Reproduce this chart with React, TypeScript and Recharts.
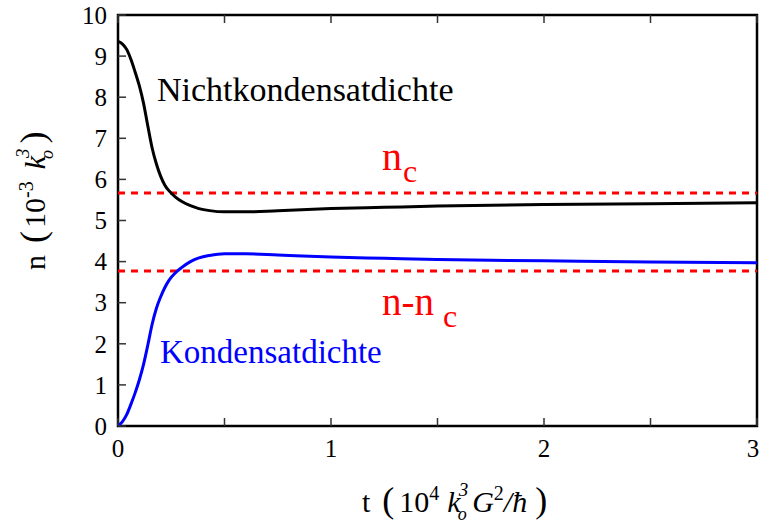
import { Customized, Line, LineChart, ReferenceArea, ReferenceLine, XAxis, YAxis } from "recharts"

// time in units of 10^4 k0^3 G^2 / hbar
const tValues = [0, 0.02, 0.04, 0.06, 0.08, 0.1, 0.12, 0.14, 0.16, 0.18, 0.2, 0.22, 0.24, 0.27, 0.3, 0.34, 0.38, 0.43, 0.5, 0.6, 0.75, 1.0, 1.25, 1.5, 2.0, 2.5, 3.0]

// density of the non-condensed part (10^-3 k0^3)
const nonCondensate = [9.36, 9.3, 9.17, 8.93, 8.62, 8.28, 7.85, 7.3, 6.77, 6.38, 6.08, 5.86, 5.72, 5.57, 5.46, 5.36, 5.29, 5.24, 5.21, 5.21, 5.24, 5.29, 5.32, 5.35, 5.39, 5.41, 5.43]

// condensate density (10^-3 k0^3)
const condensate = [0, 0.1, 0.27, 0.52, 0.8, 1.12, 1.5, 1.97, 2.47, 2.86, 3.14, 3.37, 3.55, 3.73, 3.86, 4.0, 4.09, 4.15, 4.19, 4.19, 4.16, 4.11, 4.08, 4.05, 4.02, 3.99, 3.97]

// equilibrium values
const nC = 5.67
const nMinusNc = 3.77

const xTicks = [0, 0.5, 1, 1.5, 2, 2.5, 3]
const yTicks = [0, 1, 2, 3, 4, 5, 6, 7, 8, 9, 10]

const data = tValues.map((t, i) => ({ t, non: nonCondensate[i], cond: condensate[i] }))

const FONT = "Liberation Serif, DejaVu Serif, Times New Roman, Times, serif"
const TICK_LEN = 8
const MARGIN = 10

// ticks point into the plot; labels only on whole numbers
const BottomTick = (props: any) => {
  const { x, y, payload } = props
  const axisY = y - MARGIN
  const v = payload.value
  return (
    <g>
      <line x1={x} x2={x} y1={axisY} y2={axisY - TICK_LEN} stroke="#333" strokeWidth={1.5} />
      {Number.isInteger(v) && (
        <text x={Math.min(x, 753)} y={axisY + 31} textAnchor="middle" fontSize={25} fontFamily={FONT} fill="#000">
          {v}
        </text>
      )}
    </g>
  )
}

const TopTick = (props: any) => {
  const { x, y } = props
  const axisY = y + MARGIN
  return <line x1={x} x2={x} y1={axisY} y2={axisY + TICK_LEN} stroke="#333" strokeWidth={1.5} />
}

const LeftTick = (props: any) => {
  const { x, y, payload } = props
  const axisX = x + MARGIN
  return (
    <g>
      <line x1={axisX} x2={axisX + TICK_LEN} y1={y} y2={y} stroke="#333" strokeWidth={1.5} />
      <text x={axisX - 11} y={y} dy="0.35em" textAnchor="end" fontSize={25} fontFamily={FONT} fill="#000">
        {payload.value}
      </text>
    </g>
  )
}

const RightTick = (props: any) => {
  const { x, y } = props
  const axisX = x - MARGIN
  return <line x1={axisX} x2={axisX - TICK_LEN} y1={y} y2={y} stroke="#555" strokeWidth={1.5} />
}

const Annotations = () => (
  <g style={{ fontFamily: FONT }}>
    <text x={157} y={101} fontSize={34} fill="#000">Nichtkondensatdichte</text>
    <text x={160} y={363} fontSize={33} fill="#0000ff">Kondensatdichte</text>

    <text x={382} y={170} fontSize={40} fill="#ff0000">n</text>
    <text x={403} y={182} fontSize={32} fill="#ff0000">c</text>
    <text x={382} y={315} fontSize={39} fill="#ff0000">n-n</text>
    <text x={443} y={327} fontSize={32} fill="#ff0000">c</text>

    {/* x axis title */}
    <text x={362} y={512} fontSize={30} fill="#000">
      <tspan>t</tspan>
      <tspan dx={12} fontSize={36}>(</tspan>
      <tspan dx={5}>10</tspan>
      <tspan dy={-12} fontSize={20}>4</tspan>
      <tspan dy={12} dx={8} fontStyle="italic">k</tspan>
      <tspan dy={8} dx={-3} fontSize={18} fontStyle="italic">o</tspan>
      <tspan dy={-24} dx={-8} fontSize={19} fontStyle="italic">3</tspan>
      <tspan dy={16} dx={4} fontStyle="italic">G</tspan>
      <tspan dy={-12} fontSize={20}>2</tspan>
      <tspan dy={12} fontStyle="italic">/ħ</tspan>
      <tspan dx={8} fontSize={36}>)</tspan>
    </text>

    {/* y axis title */}
    <text transform="rotate(-90)" x={-270} y={45} fontSize={30} fill="#000">
      <tspan>n</tspan>
      <tspan dx={12} fontSize={36}>(</tspan>
      <tspan dx={3}>10</tspan>
      <tspan dy={-12} fontSize={20}>-3</tspan>
      <tspan dy={12} dx={12} fontStyle="italic">k</tspan>
      <tspan dy={8} dx={-3} fontSize={18} fontStyle="italic">o</tspan>
      <tspan dy={-24} dx={-8} fontSize={19} fontStyle="italic">3</tspan>
      <tspan dy={16} dx={5} fontSize={36}>)</tspan>
    </text>
  </g>
)

export default function App() {
  return (
    <div style={{ position: "absolute", left: 0, top: 0, background: "#fff" }}>
      <LineChart width={761} height={527} data={data} margin={{ top: 0, right: 0, bottom: 0, left: 0 }}>
        <XAxis
          xAxisId="bottom"
          dataKey="t"
          type="number"
          domain={[0, 3]}
          ticks={xTicks}
          height={101}
          tickSize={0}
          tickMargin={MARGIN}
          axisLine={false}
          tickLine={false}
          tick={<BottomTick />}
          interval={0}
        />
        <XAxis
          xAxisId="top"
          orientation="top"
          dataKey="t"
          type="number"
          domain={[0, 3]}
          ticks={xTicks}
          height={15}
          tickSize={0}
          tickMargin={MARGIN}
          axisLine={false}
          tickLine={false}
          tick={<TopTick />}
          interval={0}
        />
        <YAxis
          yAxisId="left"
          type="number"
          domain={[0, 10]}
          ticks={yTicks}
          width={118}
          tickSize={0}
          tickMargin={MARGIN}
          axisLine={false}
          tickLine={false}
          tick={<LeftTick />}
          interval={0}
        />
        <YAxis
          yAxisId="right"
          orientation="right"
          type="number"
          domain={[0, 10]}
          ticks={yTicks}
          width={4}
          tickSize={0}
          tickMargin={MARGIN}
          axisLine={false}
          tickLine={false}
          tick={<RightTick />}
          interval={0}
        />
        <ReferenceLine xAxisId="bottom" yAxisId="left" y={nC} stroke="#ff0000" strokeWidth={3} strokeDasharray="7 6" />
        <ReferenceLine xAxisId="bottom" yAxisId="left" y={nMinusNc} stroke="#ff0000" strokeWidth={3} strokeDasharray="7 6" />
        <Line
          xAxisId="bottom"
          yAxisId="left"
          type="monotone"
          dataKey="non"
          stroke="#000"
          strokeWidth={3}
          dot={false}
          isAnimationActive={false}
        />
        <Line
          xAxisId="bottom"
          yAxisId="left"
          type="monotone"
          dataKey="cond"
          stroke="#0000ff"
          strokeWidth={3}
          dot={false}
          isAnimationActive={false}
        />
        <ReferenceArea
          xAxisId="bottom"
          yAxisId="left"
          x1={0}
          x2={3}
          y1={0}
          y2={10}
          fill="none"
          stroke="#000"
          strokeWidth={2.5}
          ifOverflow="visible"
        />
        <Customized component={Annotations} />
      </LineChart>
    </div>
  )
}
